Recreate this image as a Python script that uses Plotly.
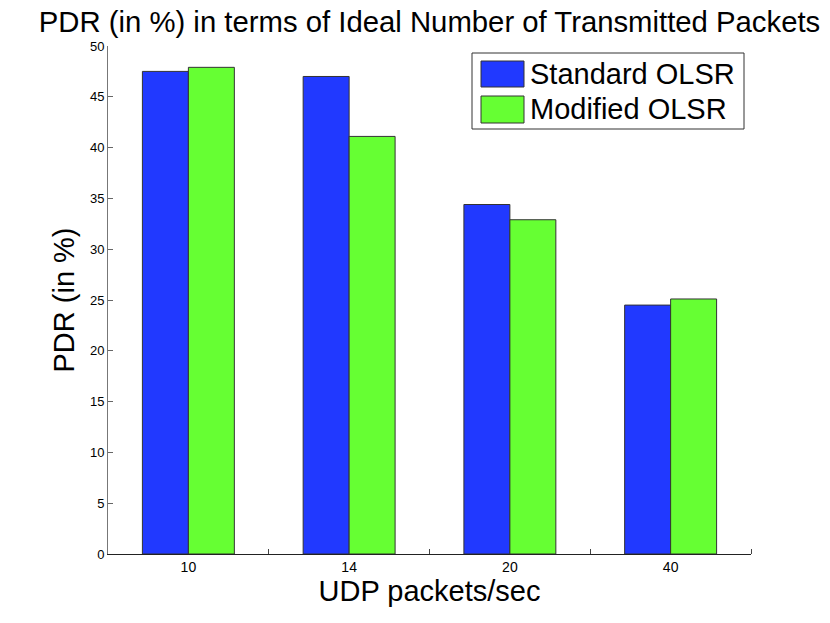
import plotly.graph_objects as go

# data
categories = ["10", "14", "20", "40"]
standard_olsr = [47.5, 47.0, 34.4, 24.5]
modified_olsr = [47.9, 41.1, 32.9, 25.1]
series_names = ["Standard OLSR", "Modified OLSR"]
series_colors = ["#2139FF", "#66FF33"]

x_pos = list(range(1, len(categories) + 1))
font = "Liberation Sans, Arial, sans-serif"

fig = go.Figure()
for name, vals, col in zip(series_names, [standard_olsr, modified_olsr], series_colors):
    fig.add_trace(go.Bar(x=x_pos, y=vals, name=name,
                         marker=dict(color=col, line=dict(color="#333333", width=1))))

# page body has an 8px margin, so the margins are shifted to make up for it
fig.update_layout(
    width=830, height=623,
    margin=dict(l=100, r=87, t=38, b=77),
    paper_bgcolor="white", plot_bgcolor="white",
    barmode="group", bargap=0.428, bargroupgap=0,
    showlegend=False,
    font=dict(family=font, color="black"),
    title=dict(text="PDR (in %) in terms of Ideal Number of Transmitted Packets",
               x=0.5, xref="paper", xanchor="center",
               y=0.994, yref="container", yanchor="top",
               font=dict(size=29.3, family=font)),
)

fig.update_xaxes(
    range=[0.5, 4.5], tickvals=x_pos, ticktext=categories, ticks="",
    tickfont=dict(size=14), showline=True, linecolor="#222222", linewidth=1,
    showgrid=False, zeroline=False,
    minor=dict(tickvals=[1.5, 2.5, 3.5, 4.5], ticks="inside", ticklen=5,
               tickcolor="#444444", showgrid=False),
    title=dict(text="UDP packets/sec", font=dict(size=29), standoff=2),
)
fig.update_yaxes(
    range=[0, 50], dtick=5, ticks="inside", ticklen=5, tickcolor="#666666",
    tickfont=dict(size=13), showline=True, linecolor="#777777", linewidth=1,
    showgrid=False, zeroline=False,
    title=dict(text="PDR (in %)", font=dict(size=29), standoff=6),
)

# legend drawn by hand so the colour boxes keep their big size
def px_x(p):
    return (p - 108) / 643.0

def px_y(p):
    return 1 - (p - 46) / 508.0

fig.add_shape(type="rect", xref="paper", yref="paper",
              x0=px_x(472), x1=px_x(744), y0=px_y(129), y1=px_y(53),
              line=dict(color="#333333", width=1), fillcolor="white")
rows = [(61, 87, 74), (96, 123, 109)]
for (top, bot, mid), name, col in zip(rows, series_names, series_colors):
    fig.add_shape(type="rect", xref="paper", yref="paper",
                  x0=px_x(481), x1=px_x(524), y0=px_y(bot), y1=px_y(top),
                  line=dict(color="#333333", width=1), fillcolor=col)
    fig.add_annotation(text=name, xref="paper", yref="paper",
                       x=px_x(528), y=px_y(mid), xanchor="left", yanchor="middle",
                       showarrow=False, font=dict(size=29, family=font, color="black"))

fig.write_html("out.html")
